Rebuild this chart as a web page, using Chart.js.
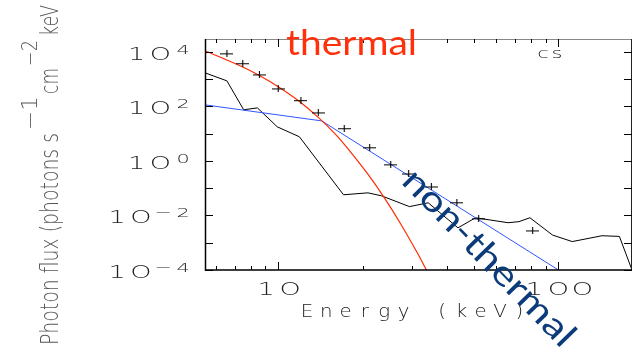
<!DOCTYPE html>
<html>
<head>
<meta charset="UTF-8">
<title>Photon spectrum</title>
<script src="https://cdn.jsdelivr.net/npm/chart.js@4.4.1/dist/chart.umd.min.js"></script>
<style>
  html, body { margin: 0; padding: 0; background: #fff; }
  #wrap { width: 639px; height: 350px; position: relative; }
</style>
</head>
<body>
<div id="wrap"><canvas id="spec"></canvas></div>
<script>
// measured spectrum (keV, photons s^-1 cm^-2 keV^-1)
const dataEnergy = [6.56, 7.47, 8.57, 10.0, 12.05, 13.9, 17.2, 21.2, 25.2, 29.2, 35.2, 43.4, 51.9, 80.9];
const dataFlux   = [8300, 3600, 1400, 430, 160, 57, 15, 3.0, 0.71, 0.33, 0.11, 0.029, 0.0075, 0.0027];

// thermal model (red)
const thermalEnergy = [5.48, 7.47, 8.57, 10.0, 11.85, 13.93, 15.99, 17.78, 20.9, 23.99, 27.3, 31.35, 33.7, 36.9];
const thermalFlux   = [10800, 2740, 1335, 519, 155, 38.3, 9.5, 2.68, 0.323, 0.0423, 0.00508, 0.000429, 0.000106, 0.000019];

// non-thermal broken power law (blue)
const powerEnergy = [5.48, 14.3, 100];
const powerFlux   = [112, 29, 0.0001];

// background (black)
const bgEnergy = [5.48, 6.56, 7.53, 8.43, 9.92, 11.9, 17.1, 20.9, 23.4, 29.4, 34.3, 43.8, 50.6, 66.1, 72.3, 79.1, 95.3, 112, 143, 165, 183];
const bgFlux   = [1670, 850, 74, 87, 17.6, 7.6, 0.057, 0.067, 0.052, 0.021, 0.029, 0.0035, 0.0082, 0.0054, 0.0059, 0.0082, 0.0019, 0.0011, 0.0018, 0.0017, 0.0001];

// axes
const xRange = [5.48, 183];
const yRange = [1e-4, 2.9e4];
const xTicksMajor = [10, 100];
const xTickLabels = ['10', '100'];
const xTicksMinor = [6, 7, 8, 9, 20, 30, 40, 50, 60, 70, 80, 90];
const yTicksMajor = [1e-4, 1e-2, 1, 1e2, 1e4];
const yTickExps = ['−4', '−2', '0', '2', '4'];
const yTicksMinor = [1e-3, 1e-1, 1e1, 1e3];
const yTitleParts = ['Photon flux (photons s', '−1', 'cm', '−2', 'keV'];

function pairs(xs, ys) {
    return xs.map((x, i) => ({ x: x, y: ys[i] }));
}

// little cross with a wider horizontal arm, used as point style
function crossImage(w, h) {
    const c = document.createElement('canvas');
    c.width = w; c.height = h;
    const g = c.getContext('2d');
    g.strokeStyle = '#000';
    g.lineWidth = 1.1;
    g.beginPath();
    g.moveTo(0, h / 2); g.lineTo(w, h / 2);
    g.moveTo(w / 2, 0); g.lineTo(w / 2, h);
    g.stroke();
    return c;
}

// draw characters one by one, each centred on its own x, stretched by sx
function cells(ctx, chars, centers, y, sx) {
    chars.forEach((ch, i) => {
        ctx.save();
        ctx.translate(centers[i], y);
        ctx.scale(sx, 1);
        ctx.textAlign = 'center';
        ctx.textBaseline = 'alphabetic';
        ctx.fillText(ch, 0, 0);
        ctx.restore();
    });
}

// text fitted to a given length
function fitText(ctx, text, x, y, len) {
    const w = ctx.measureText(text).width;
    ctx.save();
    ctx.translate(x, y);
    ctx.scale(len / w, 1);
    ctx.textAlign = 'left';
    ctx.fillText(text, 0, 0);
    ctx.restore();
}

const frame = {
    id: 'frame',
    afterDraw(chart) {
        const ctx = chart.ctx, a = chart.chartArea;
        const xs = chart.scales.x, ys = chart.scales.y;
        ctx.save();

        // box
        ctx.lineWidth = 1;
        ctx.strokeStyle = '#888';
        ctx.beginPath();
        ctx.moveTo(a.left, a.top + 0.5); ctx.lineTo(a.right, a.top + 0.5);
        ctx.stroke();
        ctx.strokeStyle = '#222';
        ctx.beginPath();
        ctx.moveTo(a.right - 0.5, a.top); ctx.lineTo(a.right - 0.5, a.bottom);
        ctx.stroke();
        ctx.strokeStyle = '#000';
        ctx.lineWidth = 1.5;
        ctx.beginPath();
        ctx.moveTo(a.left + 0.5, a.top); ctx.lineTo(a.left + 0.5, a.bottom);
        ctx.lineTo(a.right, a.bottom);
        ctx.stroke();

        // ticks
        ctx.lineWidth = 1;
        ctx.strokeStyle = '#000';
        ctx.beginPath();
        yTicksMajor.concat(yTicksMinor).forEach(v => {
            const p = Math.round(ys.getPixelForValue(v)) + 0.5;
            ctx.moveTo(a.left, p); ctx.lineTo(a.left + 8, p);
            ctx.moveTo(a.right, p); ctx.lineTo(a.right - 8, p);
        });
        xTicksMinor.forEach(v => {
            const p = Math.round(xs.getPixelForValue(v)) + 0.5;
            ctx.moveTo(p, a.bottom); ctx.lineTo(p, a.bottom - 4);
            ctx.moveTo(p, a.top); ctx.lineTo(p, a.top + 4);
        });
        xTicksMajor.forEach(v => {
            const p = Math.round(xs.getPixelForValue(v)) + 0.5;
            ctx.moveTo(p, a.bottom); ctx.lineTo(p, a.bottom - 8);
            ctx.moveTo(p, a.top); ctx.lineTo(p, a.top + 8);
        });
        ctx.stroke();

        // tick labels
        ctx.fillStyle = '#222';
        yTicksMajor.forEach((v, i) => {
            const p = ys.getPixelForValue(v);
            const ex = yTickExps[i].split('');
            const ec = ex.map((c, k) => 183 - 19.5 * (ex.length - 1 - k));
            const oc = ec[0] - 22.5;
            ctx.font = '200 18px "DejaVu Sans"';
            cells(ctx, ['1', 'O'], [oc - 24, oc], p + 8, 1.5);
            ctx.font = '200 13px "DejaVu Sans"';
            cells(ctx, ex, ec, p + 2, 1.6);
        });
        xTicksMajor.forEach((v, i) => {
            const p = xs.getPixelForValue(v);
            const chars = xTickLabels[i].replace(/0/g, 'O').split('');
            const c0 = p - 24 * (chars.length - 1) / 2;
            ctx.font = '200 18px "DejaVu Sans"';
            cells(ctx, chars, chars.map((c, k) => c0 + 24 * k), 295, 1.5);
        });

        // axis titles
        ctx.fillStyle = '#222';
        ctx.font = '200 18px "DejaVu Sans"';
        const title = 'Energy (keV)'.split('');
        cells(ctx, title, title.map((c, k) => 307 + 19.3 * k), 317, 1.1);

        ctx.fillStyle = '#555';
        ctx.save();
        ctx.rotate(-Math.PI / 2);
        const parts = [
            [345, 133, 58, 24], [130, 96, 37, 21], [94, 68, 58, 24], [66, 40, 37, 21], [36, 5, 58, 24]
        ];
        yTitleParts.forEach((t, i) => {
            const q = parts[i];
            ctx.font = '200 ' + q[3] + 'px "DejaVu Sans"';
            fitText(ctx, t, -q[0], q[2], q[0] - q[1]);
        });
        ctx.restore();

        ctx.fillStyle = '#222';
        ctx.font = '200 14px "DejaVu Sans"';
        cells(ctx, ['c', 's'], [543, 557], 58, 1.5);

        // annotations
        ctx.fillStyle = '#ff300a';
        ctx.font = '35px Lato';
        fitText(ctx, 'thermal', 286, 55, 131);

        ctx.fillStyle = '#0b3b7a';
        ctx.font = '35px Lato';
        ctx.translate(489, 258);
        ctx.rotate(46 * Math.PI / 180);
        const w = ctx.measureText('non-thermal').width;
        ctx.scale(232 / w, 1);
        ctx.textAlign = 'center';
        ctx.textBaseline = 'middle';
        ctx.fillText('non-thermal', 0, 0);

        ctx.restore();
    }
};

const ctx = document.getElementById('spec').getContext('2d');
new Chart(ctx, {
    type: 'scatter',
    data: {
        datasets: [
            {
                label: 'data',
                data: pairs(dataEnergy, dataFlux),
                pointStyle: crossImage(13, 7),
                pointRadius: 6,
                showLine: false
            },
            {
                label: 'thermal',
                data: pairs(thermalEnergy, thermalFlux),
                showLine: true,
                borderColor: '#ff2a00',
                borderWidth: 1.2,
                pointRadius: 0,
                tension: 0.3
            },
            {
                label: 'non-thermal',
                data: pairs(powerEnergy, powerFlux),
                showLine: true,
                borderColor: '#2f55ff',
                borderWidth: 1,
                pointRadius: 0
            },
            {
                label: 'background',
                data: pairs(bgEnergy, bgFlux),
                showLine: true,
                borderColor: '#000',
                borderWidth: 1,
                pointRadius: 0
            }
        ]
    },
    options: {
        responsive: true,
        maintainAspectRatio: false,
        animation: false,
        layout: { padding: { left: 205, top: 39, right: 1, bottom: 80 } },
        plugins: { legend: { display: false }, tooltip: { enabled: false } },
        scales: {
            x: { type: 'logarithmic', display: false, min: xRange[0], max: xRange[1] },
            y: { type: 'logarithmic', display: false, min: yRange[0], max: yRange[1] }
        }
    },
    plugins: [frame]
});
</script>
</body>
</html>
